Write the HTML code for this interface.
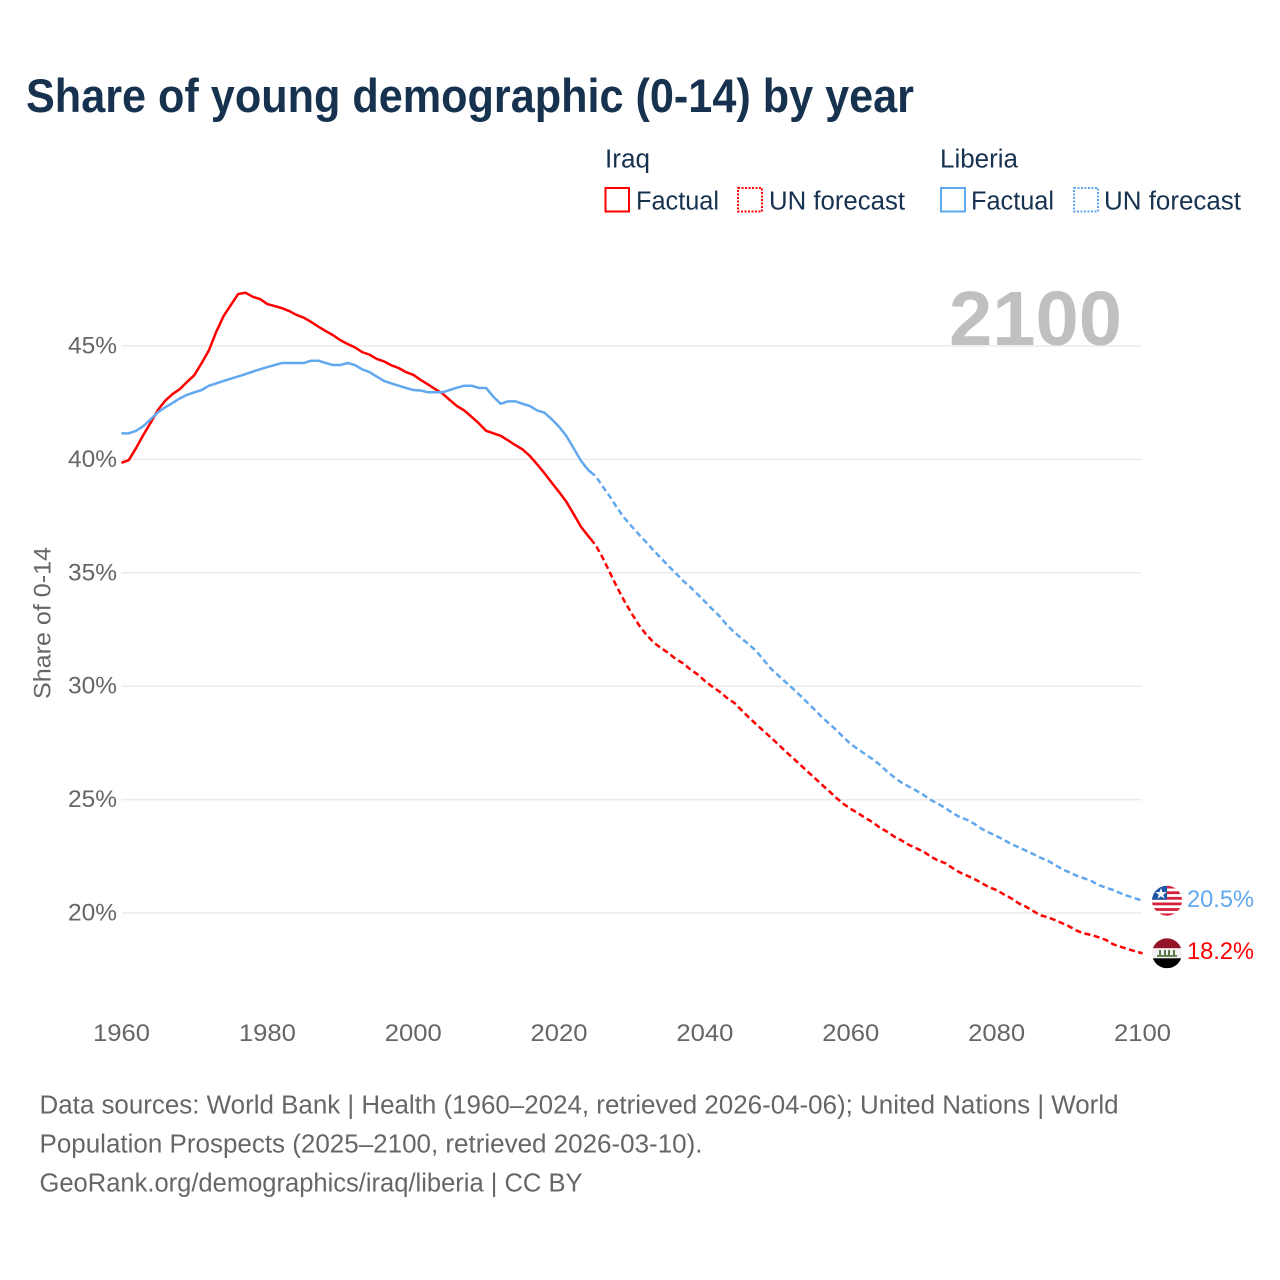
<!DOCTYPE html>
<html lang="en">
<head>
<meta charset="utf-8">
<title>Share of young demographic (0-14) by year</title>
<style>
html,body{margin:0;padding:0;background:#fff;width:1280px;height:1280px;overflow:hidden}
svg{display:block;font-family:"Liberation Sans",sans-serif}
</style>
</head>
<body>
<svg id="chart" width="1280" height="1280" viewBox="0 0 1280 1280" xmlns="http://www.w3.org/2000/svg">
  <defs>
    <clipPath id="clip-lr"><circle cx="1167" cy="900.7" r="15"/></clipPath>
    <clipPath id="clip-iq"><circle cx="1167" cy="953.3" r="15"/></clipPath>
  </defs>
  <rect width="1280" height="1280" fill="#fff"/>
  <text x="26" y="112" font-size="47" font-weight="700" fill="#16324f" textLength="888" lengthAdjust="spacingAndGlyphs">Share of young demographic (0-14) by year</text>

  <g font-size="25.5" fill="#16324f">
    <text x="605" y="167.5" textLength="45" lengthAdjust="spacingAndGlyphs">Iraq</text>
    <text x="940" y="167.5" textLength="78" lengthAdjust="spacingAndGlyphs">Liberia</text>
    <rect x="605.5" y="188" width="23.5" height="23.5" fill="none" stroke="#ff0000" stroke-width="2"/>
    <text x="636" y="209.5" textLength="83" lengthAdjust="spacingAndGlyphs">Factual</text>
    <rect x="738" y="188" width="24" height="23.5" fill="none" stroke="#ff0000" stroke-width="2" stroke-dasharray="2 1.5"/>
    <text x="769" y="209.5" textLength="136" lengthAdjust="spacingAndGlyphs">UN forecast</text>
    <rect x="941" y="188" width="24" height="23.5" fill="none" stroke="#61a8ee" stroke-width="2"/>
    <text x="971" y="209.5" textLength="83" lengthAdjust="spacingAndGlyphs">Factual</text>
    <rect x="1074" y="188" width="24" height="23.5" fill="none" stroke="#61a8ee" stroke-width="2" stroke-dasharray="2 1.5"/>
    <text x="1104" y="209.5" textLength="137" lengthAdjust="spacingAndGlyphs">UN forecast</text>
  </g>

  <g id="grid"></g>
  <text x="949" y="345" font-size="77" font-weight="700" fill="#c0c0c0" textLength="173" lengthAdjust="spacingAndGlyphs">2100</text>
  <g id="y-axis"></g>
  <g id="x-axis"></g>
  <text transform="translate(50.5,699) rotate(-90)" font-size="24.5" fill="#666" textLength="152" lengthAdjust="spacingAndGlyphs">Share of 0-14</text>
  <g id="series"></g>

  <g clip-path="url(#clip-lr)">
    <rect x="1152" y="885.7" width="30" height="30" fill="#fff"/>
    <rect x="1152" y="885.7" width="30" height="2.8" fill="#d6233c"/>
    <rect x="1152" y="891.3" width="30" height="2.8" fill="#d6233c"/>
    <rect x="1152" y="896.9" width="30" height="2.8" fill="#d6233c"/>
    <rect x="1152" y="902.5" width="30" height="2.8" fill="#d6233c"/>
    <rect x="1152" y="908.1" width="30" height="2.8" fill="#d6233c"/>
    <rect x="1152" y="913.4" width="30" height="2.8" fill="#d6233c"/>
    <rect x="1152" y="885.7" width="15" height="14" fill="#1d56a6"/>
    <polygon points="1161,888 1162.4,892.1 1166.7,892.1 1163.2,894.7 1164.5,898.8 1161,896.3 1157.5,898.8 1158.8,894.7 1155.3,892.1 1159.6,892.1" fill="#fff"/>
  </g>
  <g clip-path="url(#clip-iq)">
    <rect x="1152" y="938.3" width="30" height="10" fill="#94142a"/>
    <rect x="1152" y="948.3" width="30" height="10" fill="#f1f1f1"/>
    <rect x="1152" y="958.3" width="30" height="10" fill="#000"/>
    <rect x="1157" y="955" width="20" height="1.8" fill="#5a7a45"/>
    <rect x="1159" y="950" width="2" height="6" fill="#5a7a45"/>
    <rect x="1164" y="950" width="2" height="6" fill="#5a7a45"/>
    <rect x="1168" y="950" width="2" height="6" fill="#5a7a45"/>
    <rect x="1173" y="950" width="2" height="6" fill="#5a7a45"/>
  </g>
  <text x="1187" y="907" font-size="24.5" fill="#61a8ee" textLength="67" lengthAdjust="spacingAndGlyphs">20.5%</text>
  <text x="1187" y="959" font-size="24.5" fill="#ff0000" textLength="67" lengthAdjust="spacingAndGlyphs">18.2%</text>

  <g font-size="25.5" fill="#666">
    <text x="39.5" y="1113.5" textLength="1079" lengthAdjust="spacingAndGlyphs">Data sources: World Bank | Health (1960–2024, retrieved 2026-04-06); United Nations | World</text>
    <text x="39.5" y="1152.5" textLength="663" lengthAdjust="spacingAndGlyphs">Population Prospects (2025–2100, retrieved 2026-03-10).</text>
    <text x="39.5" y="1191.5" textLength="543" lengthAdjust="spacingAndGlyphs">GeoRank.org/demographics/iraq/liberia | CC BY</text>
  </g>
</svg>
<script>
const yTicks = [20, 25, 30, 35, 40, 45];
const xTicks = [1960, 1980, 2000, 2020, 2040, 2060, 2080, 2100];
const factualStartYear = 1960;
const forecastStartYear = 2025;
const iraqFactual = [39.85,39.97,40.50,41.08,41.62,42.18,42.59,42.88,43.10,43.42,
43.72,44.25,44.82,45.63,46.32,46.81,47.29,47.35,47.17,47.07,
46.85,46.76,46.67,46.54,46.37,46.25,46.06,45.85,45.66,45.48,
45.26,45.09,44.94,44.73,44.62,44.43,44.32,44.15,44.03,43.85,
43.73,43.51,43.31,43.10,42.91,42.62,42.35,42.16,41.88,41.59,
41.26,41.15,41.04,40.84,40.63,40.44,40.15,39.78,39.39,38.97,
38.56,38.13,37.59,37.03,36.62];
const iraqForecast = [36.23,35.65,34.99,34.33,33.73,33.18,32.67,32.26,31.92,31.68,
31.46,31.20,31.01,30.74,30.52,30.23,29.98,29.76,29.49,29.27,
28.95,28.63,28.33,28.04,27.75,27.45,27.14,26.85,26.56,26.26,
25.97,25.67,25.38,25.08,24.81,24.59,24.40,24.19,24.00,23.76,
23.58,23.36,23.19,23.00,22.85,22.70,22.48,22.31,22.19,21.97,
21.78,21.64,21.49,21.31,21.13,21.01,20.82,20.65,20.43,20.28,
20.09,19.90,19.81,19.69,19.55,19.40,19.22,19.10,19.03,18.93,
18.81,18.62,18.51,18.41,18.31,18.22];
const liberiaFactual = [41.15,41.15,41.26,41.47,41.77,42.08,42.30,42.49,42.69,42.85,
42.96,43.06,43.25,43.35,43.46,43.56,43.66,43.76,43.87,43.97,
44.07,44.16,44.25,44.25,44.25,44.25,44.35,44.35,44.25,44.16,
44.16,44.25,44.16,43.97,43.85,43.65,43.46,43.35,43.25,43.15,
43.06,43.04,42.96,42.96,42.96,43.06,43.16,43.25,43.25,43.15,
43.15,42.76,42.45,42.56,42.56,42.45,42.35,42.16,42.06,41.77,
41.44,41.03,40.49,39.94,39.53];
const liberiaForecast = [39.27,38.80,38.35,37.84,37.40,37.03,36.67,36.33,35.97,35.64,
35.30,34.98,34.65,34.37,34.05,33.73,33.40,33.09,32.70,32.39,
32.11,31.85,31.56,31.18,30.79,30.49,30.20,29.91,29.61,29.29,
28.98,28.65,28.36,28.07,27.75,27.45,27.22,27.00,26.78,26.53,
26.23,25.97,25.74,25.57,25.39,25.20,24.98,24.81,24.62,24.40,
24.22,24.10,23.92,23.70,23.54,23.39,23.22,23.04,22.90,22.75,
22.60,22.44,22.31,22.12,21.93,21.79,21.64,21.53,21.41,21.23,
21.12,21.01,20.87,20.75,20.65,20.54];

const NS = 'http://www.w3.org/2000/svg';
const xScale = year => 121.5 + (year - 1960) * 7.2929;
const yScale = pct => 913 - (pct - 20) * 22.68;

function pathFrom(points) {
  return points.map((p, i) => (i ? 'L' : 'M') + xScale(p[0]).toFixed(2) + ' ' + yScale(p[1]).toFixed(2)).join(' ');
}

function drawSeries(factual, forecast, color, key) {
  const root = document.getElementById('series');
  const solidPts = factual.map((v, i) => [factualStartYear + i, v]);
  const last = factual[factual.length - 1];
  const bridge = [forecastStartYear - 0.4, last + (forecast[0] - last) * 0.6];
  solidPts.push(bridge);
  const dashPts = [bridge].concat(forecast.map((v, i) => [forecastStartYear + i, v]));

  const solid = document.createElementNS(NS, 'path');
  
  
  solid.setAttribute('d', pathFrom(solidPts));
  solid.setAttribute('fill', 'none');
  solid.setAttribute('stroke', color);
  solid.setAttribute('stroke-width', '2.5');
  solid.setAttribute('stroke-linejoin', 'round');
  root.appendChild(solid);

  const dashed = document.createElementNS(NS, 'path');
  
  
  dashed.setAttribute('d', pathFrom(dashPts));
  dashed.setAttribute('fill', 'none');
  dashed.setAttribute('stroke', color);
  dashed.setAttribute('stroke-width', '2.5');
  dashed.setAttribute('stroke-dasharray', '6 3.5');
  dashed.setAttribute('stroke-dashoffset', '3');
  root.appendChild(dashed);
}

yTicks.forEach(t => {
  const line = document.createElementNS(NS, 'line');
  
  
  line.setAttribute('x1', xScale(1960));
  line.setAttribute('x2', xScale(2100) - 1);
  line.setAttribute('y1', yScale(t));
  line.setAttribute('y2', yScale(t));
  line.setAttribute('stroke', '#ebebeb');
  line.setAttribute('stroke-width', '1.5');
  document.getElementById('grid').appendChild(line);

  const label = document.createElementNS(NS, 'text');
  
  
  label.setAttribute('x', 68);
  label.setAttribute('y', yScale(t) + 7.5);
  label.setAttribute('font-size', '24.5');
  label.setAttribute('fill', '#666');
  label.setAttribute('textLength', '49');
  label.setAttribute('lengthAdjust', 'spacingAndGlyphs');
  label.textContent = t + '%';
  document.getElementById('y-axis').appendChild(label);
});

xTicks.forEach(t => {
  const label = document.createElementNS(NS, 'text');
  
  
  label.setAttribute('x', xScale(t) - 28.5);
  label.setAttribute('y', 1041);
  label.setAttribute('font-size', '24.5');
  label.setAttribute('fill', '#666');
  label.setAttribute('textLength', '57');
  label.setAttribute('lengthAdjust', 'spacingAndGlyphs');
  label.textContent = t;
  document.getElementById('x-axis').appendChild(label);
});

drawSeries(iraqFactual, iraqForecast, '#ff0000', 'iraq');
drawSeries(liberiaFactual, liberiaForecast, '#61a8ee', 'liberia');
</script>
</body>
</html>
